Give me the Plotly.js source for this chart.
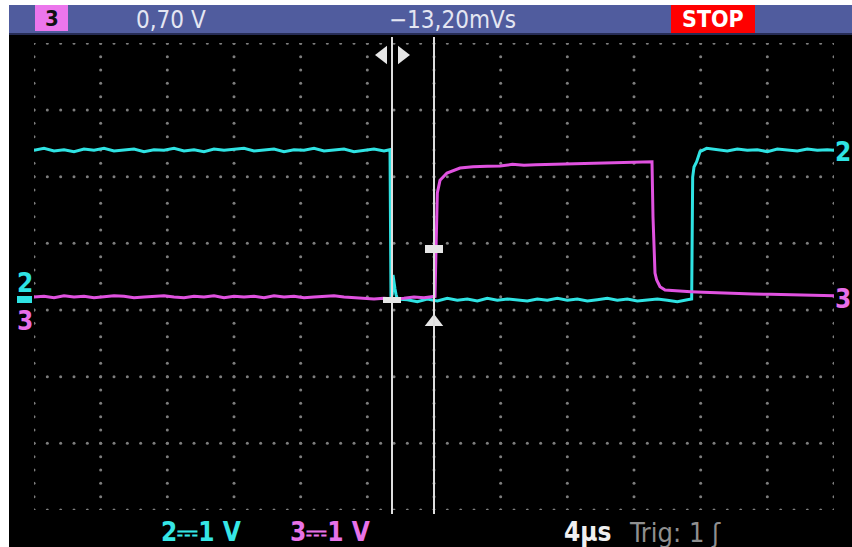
<!DOCTYPE html>
<html><head><meta charset="utf-8">
<script src="https://cdn.plot.ly/plotly-3.0.1.min.js"></script>
<style>
html,body{margin:0;padding:0;background:#fff;width:852px;height:547px;overflow:hidden;}
#chart{position:absolute;left:9px;top:5px;width:843px;height:542px;}
</style></head>
<body><div id="chart"></div>
<script>
// ---- data (time in µs, 4 µs/div; volts, 1 V/div) ----
const ch2Time = [
  0, 0.6, 1.2, 1.8, 2.4, 3.0, 3.6, 4.2, 4.8, 5.4,
  6.0, 6.6, 7.2, 7.8, 8.4, 9.0, 9.6, 10.2, 10.8, 11.4,
  12.0, 12.6, 13.2, 13.8, 14.4, 15.0, 15.6, 16.2, 16.8, 17.4,
  18.0, 18.6, 19.2, 19.8, 20.4, 21.0, 21.36, 21.42, 21.5, 21.54,
  21.6, 21.66, 21.72, 21.8, 22.4, 23.0, 23.6, 24.2, 24.8, 25.4,
  26.0, 26.6, 27.2, 27.8, 28.4, 29.0, 29.6, 30.2, 30.8, 31.4,
  32.0, 32.6, 33.2, 33.8, 34.4, 35.0, 35.6, 36.2, 36.8, 37.4,
  38.0, 38.6, 39.2, 39.46, 39.52, 39.6, 39.76, 39.96, 40.36, 41.0,
  41.6, 42.2, 42.8, 43.4, 44.0, 44.6, 45.2, 45.8, 46.4, 47.0,
  47.6, 48.0];
const ch2Volts = [
  2.20, 2.23, 2.19, 2.21, 2.18, 2.22, 2.20, 2.23, 2.19, 2.21,
  2.22, 2.18, 2.21, 2.20, 2.23, 2.19, 2.21, 2.18, 2.22, 2.20,
  2.21, 2.23, 2.19, 2.20, 2.22, 2.18, 2.21, 2.20, 2.23, 2.19,
  2.21, 2.22, 2.18, 2.20, 2.22, 2.19, 2.21, -0.02, 0.05, 0.33,
  0.20, 0.12, 0.04, -0.03, -0.04, -0.07, -0.03, -0.06, -0.02, -0.05,
  -0.03, -0.06, -0.02, -0.05, -0.03, -0.04, -0.06, -0.03, -0.05, -0.02,
  -0.05, -0.03, -0.06, -0.04, -0.02, -0.05, -0.03, -0.06, -0.04, -0.03,
  -0.05, -0.07, -0.04, -0.03, 1.80, 1.95, 2.03, 2.18, 2.23, 2.21,
  2.19, 2.22, 2.20, 2.21, 2.18, 2.22, 2.20, 2.19, 2.22, 2.20,
  2.21, 2.20];
const ch3Time = [
  0, 0.6, 1.2, 1.8, 2.4, 3.0, 3.6, 4.2, 4.8, 5.4,
  6.0, 6.6, 7.2, 7.8, 8.4, 9.0, 9.6, 10.2, 10.8, 11.4,
  12.0, 12.6, 13.2, 13.8, 14.4, 15.0, 15.6, 16.2, 16.8, 17.4,
  18.0, 18.6, 19.2, 19.8, 20.4, 21.0, 21.6, 22.2, 22.8, 23.4,
  24.06, 24.12, 24.16, 24.2, 24.36, 24.78, 25.56, 26.34, 27.2, 27.96,
  28.7, 29.4, 30.1, 30.8, 31.5, 32.2, 32.9, 33.6, 34.3, 35.0,
  35.6, 36.2, 36.8, 37.08, 37.14, 37.2, 37.26, 37.36, 37.56, 37.86,
  38.5, 39.4, 40.14, 41.0, 42.0, 43.14, 44.2, 45.2, 46.2, 47.1,
  48.0];
const ch3Volts = [
  0.00, 0.01, -0.01, 0.02, 0.00, 0.01, -0.01, 0.00, 0.02, 0.01,
  -0.01, 0.00, 0.01, 0.02, 0.00, -0.01, 0.01, 0.00, 0.02, -0.01,
  0.01, 0.00, 0.01, -0.01, 0.02, 0.00, 0.01, -0.01, 0.00, 0.01,
  0.02, 0.00, -0.01, -0.02, -0.03, -0.02, -0.03, -0.02, 0.00, -0.01,
  0.01, 0.70, 1.45, 1.56, 1.75, 1.86, 1.935, 1.955, 1.96, 1.965,
  1.99, 1.975, 1.985, 1.99, 2.00, 1.995, 2.01, 2.005, 2.02, 2.015,
  2.03, 2.025, 2.035, 2.03, 1.20, 0.60, 0.36, 0.255, 0.155, 0.105,
  0.09, 0.08, 0.07, 0.06, 0.05, 0.045, 0.04, 0.035, 0.03, 0.025,
  0.02];
const cursorTimes = [21.48, 24.0];
const readoutLeft = '0,70 V';
const readoutRight = '\u221213,20mVs';
const ch2Label = '2\u23931 V';
const ch3Label = '3\u23931 V';
const timebaseLabel = '4\u00b5s';
const trigLabel = 'Trig: 1 \u0283';

// ---- layout helpers (page pixel -> paper) ----
const W = 843, H = 542, L = 25, R = 18, T = 38, B = 37;
const PW = W - L - R, PH = H - T - B;
const fx = p => (p - 9 - L) / PW;
const fy = p => (H - B - (p - 5)) / PH;
const US_PER_PX = 48 / 800;
const V_PER_PX = 1 / 66.667;
const vAt = p => (297 - p) * V_PER_PX;

const CYAN = '#2fe3e3', MAG = '#e052e0';
const FONT = "'DejaVu Sans Condensed','Liberation Sans Narrow','DejaVu Sans',sans-serif";

// graticule dots
const vTop = 3.805;
const gx = [], gy = [];
for (let k = 0; k <= 12; k++) for (let i = 0; i <= 35; i++) { gx.push(4 * k); gy.push(vTop - 0.2 * i); }
for (let j = 0; j <= 7; j++) for (let i = 0; i <= 60; i++) { gx.push(0.8 * i); gy.push(vTop - j); }

const traces = [
  {x: gx, y: gy, type: 'scatter', mode: 'markers', hoverinfo: 'skip',
   marker: {size: 3, color: '#7e7e7e'}},
  {x: ch2Time, y: ch2Volts, type: 'scatter', mode: 'lines', hoverinfo: 'skip',
   line: {color: CYAN, width: 3}},
  {x: ch3Time, y: ch3Volts, type: 'scatter', mode: 'lines', hoverinfo: 'skip',
   line: {color: MAG, width: 3}},
  {x: [cursorTimes[0] - 9 * US_PER_PX, cursorTimes[0] + 10 * US_PER_PX],
   y: [vAt(55), vAt(55)], type: 'scatter', mode: 'markers', hoverinfo: 'skip', cliponaxis: false,
   marker: {symbol: ['triangle-left', 'triangle-right'], size: 16, color: '#e6e6e6'}},
  {x: [cursorTimes[1]], y: [vAt(322)], type: 'scatter', mode: 'markers', hoverinfo: 'skip',
   marker: {symbol: 'triangle-up', size: 16, color: '#e6e6e6'}}
];

const shapes = [
  // top bar
  {type: 'rect', xref: 'paper', yref: 'paper', x0: fx(9), x1: fx(852), y0: fy(33), y1: fy(5),
   fillcolor: '#505c9e', line: {width: 0}, layer: 'below'},
  {type: 'rect', xref: 'paper', yref: 'paper', x0: fx(9), x1: fx(852), y0: fy(35), y1: fy(33),
   fillcolor: '#262c55', line: {width: 0}, layer: 'below'},
  {type: 'rect', xref: 'paper', yref: 'paper', x0: fx(35), x1: fx(68), y0: fy(31), y1: fy(5),
   fillcolor: '#ec76ec', line: {width: 0}, layer: 'below'},
  {type: 'rect', xref: 'paper', yref: 'paper', x0: fx(671), x1: fx(755), y0: fy(33), y1: fy(5),
   fillcolor: '#ff0000', line: {width: 0}, layer: 'below'},
  // ch2 ground bar
  {type: 'rect', xref: 'paper', yref: 'paper', x0: fx(17), x1: fx(32), y0: fy(303), y1: fy(296),
   fillcolor: CYAN, line: {width: 0}},
  // cursors
  ...cursorTimes.map(t => ({type: 'line', xref: 'x', yref: 'paper', x0: t, x1: t,
   y0: fy(514), y1: fy(37), line: {color: '#dedede', width: 2}})),
  {type: 'rect', xref: 'x', yref: 'y', xsizemode: 'pixel', ysizemode: 'pixel',
   xanchor: cursorTimes[0], yanchor: vAt(300), x0: -9, x1: 9, y0: -3, y1: 3,
   fillcolor: '#e6e6e6', line: {width: 0}},
  {type: 'rect', xref: 'x', yref: 'y', xsizemode: 'pixel', ysizemode: 'pixel',
   xanchor: cursorTimes[1], yanchor: vAt(249), x0: -9, x1: 9, y0: -4, y1: 4,
   fillcolor: '#e6e6e6', line: {width: 0}}
];

const ann = (text, x, y, color, size, opts = {}) => Object.assign({
  text, x: fx(x), y: fy(y), xref: 'paper', yref: 'paper', showarrow: false,
  xanchor: 'center', yanchor: 'middle', borderpad: 0,
  font: {family: FONT, size, color, weight: 'bold'}
}, opts);

const annotations = [
  ann('3', 51.5, 18, '#111', 22),
  ann(readoutLeft, 171, 20, '#e4e6f2', 24, {font: {family: FONT, size: 24, color: '#e4e6f2'}}),
  ann(readoutRight, 452, 20, '#e4e6f2', 24, {font: {family: FONT, size: 24, color: '#e4e6f2'}}),
  ann('STOP', 713, 19, '#ffffff', 23),
  ann('2', 24.5, 283, CYAN, 26),
  ann('3', 24.5, 321, '#e86ee8', 26),
  ann('2', 843, 152, CYAN, 26),
  ann('3', 843, 299, '#e86ee8', 26),
  ann(ch2Label, 160, 532, '#36e6e6', 26, {xanchor: 'left'}),
  ann(ch3Label, 289, 532, '#e872e8', 26, {xanchor: 'left'}),
  ann(timebaseLabel, 563, 532, '#f0f0f0', 26, {xanchor: 'left'}),
  ann(trigLabel, 628, 532, '#8f8f8f', 27, {xanchor: 'left', font: {family: FONT, size: 27, color: '#8f8f8f'}})
];

const layout = {
  width: W, height: H,
  margin: {l: L, r: R, t: T, b: B, pad: 0},
  paper_bgcolor: '#000', plot_bgcolor: '#000',
  showlegend: false,
  xaxis: {range: [0, 48], visible: false, fixedrange: true},
  yaxis: {range: [-3.195, 3.81], visible: false, fixedrange: true},
  shapes, annotations
};
Plotly.newPlot('chart', traces, layout, {staticPlot: true, displayModeBar: false});
</script>
</body></html>
